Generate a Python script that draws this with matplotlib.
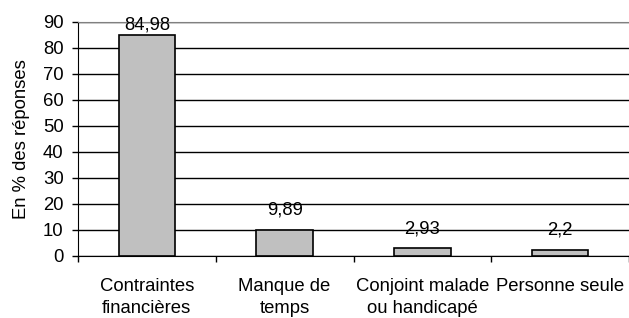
import numpy as np
import matplotlib
matplotlib.use("Agg")
import matplotlib.pyplot as plt

# donnees
categories = ["Contraintes\nfinancières", "Manque de\ntemps",
              "Conjoint malade\nou handicapé", "Personne seule"]
valeurs = [84.98, 9.89, 2.93, 2.2]
etiquettes = ["84,98", "9,89", "2,93", "2,2"]
yticks = list(range(0, 91, 10))

plt.rcParams['font.family'] = ['Liberation Sans', 'DejaVu Sans']
fs = 13.3

fig = plt.figure(figsize=(6.29, 3.18), dpi=100)
ax = fig.add_axes([78/629, 62/318, 551/629, 234/318])

x = np.arange(len(categories))
ax.yaxis.grid(True, color='black', linewidth=1)
ax.set_axisbelow(True)
ax.bar(x, valeurs, width=0.41, color='#c0c0c0', edgecolor='black', linewidth=1.2, zorder=3)

# etiquettes de valeur
for xi, v, lab in zip(x, valeurs, etiquettes):
    ax.text(xi, min(v + 5.9, 87.3), lab, ha='center', va='baseline', fontsize=fs, zorder=4)

ax.set_xlim(-0.5, len(categories) - 0.5)
ax.set_ylim(0, 90)
ax.set_yticks(yticks)
ax.tick_params(axis='y', labelsize=fs, length=4.3, width=1, pad=6)

ax.set_xticks(x)
ax.set_xticklabels(categories, fontsize=fs, linespacing=1.4)
ax.tick_params(axis='x', which='major', length=0, pad=16)
ax.set_xticks(np.arange(-0.5, len(categories), 1.0), minor=True)
ax.tick_params(axis='x', which='minor', length=4, width=1, direction='out')

ax.set_ylabel("En % des réponses", fontsize=fs, labelpad=9)

ax.spines['right'].set_visible(False)
ax.spines['top'].set_color('#808080')
ax.spines['left'].set_color('black')
ax.spines['bottom'].set_color('black')

plt.savefig('out.png', dpi=100)
